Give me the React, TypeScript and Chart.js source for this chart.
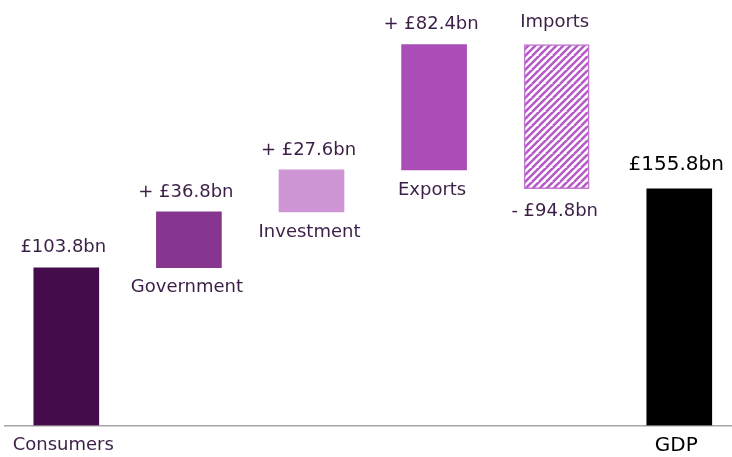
import React, { useEffect, useRef } from "react";
import { Chart, registerables } from "chart.js";

Chart.register(...registerables);

const categories = ["Consumers", "Government", "Investment", "Exports", "Imports", "GDP"];
// change contributed by each component (first and last are totals)
const changes = [103.8, 36.8, 27.6, 82.4, -94.8, 155.8];
const isTotal = [true, false, false, false, false, true];
const barColors = ["#440c4a", "#86368e", "#cf96d6", "#aa4db7", "hatch", "#000000"];
const textColors = ["#3c1f47", "#3c1f47", "#3c1f47", "#3c1f47", "#3c1f47", "#000000"];

function makeHatch(color: string): CanvasPattern | string {
  const s = 7;
  const T = s * 2;
  const c = document.createElement("canvas");
  c.width = T;
  c.height = T;
  const g = c.getContext("2d");
  if (!g) return color;
  g.fillStyle = "#ffffff";
  g.fillRect(0, 0, T, T);
  g.strokeStyle = color;
  g.lineWidth = 2.6;
  g.beginPath();
  for (let k = -2; k <= 5; k++) {
    const o = k * s;
    g.moveTo(o - T, T);
    g.lineTo(o + T, -T);
  }
  g.stroke();
  const p = g.createPattern(c, "repeat");
  return p || color;
}

function fmt(v: number, total: boolean) {
  const a = "£" + Math.abs(v).toFixed(1) + "bn";
  if (total) return a;
  return (v >= 0 ? "+ " : "- ") + a;
}

const labelPlugin = {
  id: "wfLabels",
  afterDatasetsDraw(chart: any) {
    const ctx = chart.ctx;
    const meta = chart.getDatasetMeta(0);
    const axisY = chart.chartArea.bottom;
    meta.data.forEach((bar: any, i: number) => {
      const { x, y, base } = bar.getProps(["x", "y", "base"], true);
      const top = Math.min(y, base);
      const bottom = Math.max(y, base);
      const big = i === categories.length - 1;
      ctx.save();
      ctx.font = (big ? "20px" : "18px") + ' "DejaVu Sans"';
      ctx.fillStyle = textColors[i];
      ctx.textAlign = "center";
      ctx.textBaseline = "middle";
      const val = fmt(changes[i], isTotal[i]);
      if (isTotal[i]) {
        ctx.fillText(val, x - 3, top - (big ? 24 : 20));
        ctx.fillText(categories[i], x - 3, axisY + 20);
      } else if (changes[i] >= 0) {
        ctx.fillText(val, x - 3, top - 20);
        ctx.fillText(categories[i], x - 2, bottom + 20);
      } else {
        ctx.fillText(categories[i], x - 2, top - 22);
        ctx.fillText(val, x - 2, bottom + 23);
      }
      ctx.restore();
    });
  },
};

export default function App() {
  const ref = useRef<HTMLCanvasElement | null>(null);
  useEffect(() => {
    if (!ref.current) return;
    let running = 0;
    const ranges: [number, number][] = [];
    changes.forEach((c, i) => {
      if (isTotal[i]) {
        ranges.push([0, c]);
        running = c;
      } else {
        const next = running + c;
        ranges.push([Math.min(running, next), Math.max(running, next)]);
        running = next;
      }
    });
    const hatch = makeHatch("#b65cc6");
    const bg = barColors.map((c) => (c === "hatch" ? hatch : c));
    const chart = new Chart(ref.current, {
      type: "bar",
      data: {
        datasets: [
          {
            data: ranges.map((r, i) => ({ x: i, y: r })) as any,
            backgroundColor: bg as any,
            borderColor: barColors.map((c) => (c === "hatch" ? "#c277d0" : c)),
            borderWidth: barColors.map((c) => (c === "hatch" ? 1.5 : 0)),
            borderSkipped: false,
            barThickness: 65,
          },
        ],
      },
      options: {
        animation: false,
        responsive: false,
        devicePixelRatio: 1,
        layout: { padding: { left: 5, right: 0, top: 0, bottom: 31.5 } },
        plugins: { legend: { display: false }, tooltip: { enabled: false } },
        scales: {
          x: {
            type: "linear",
            offset: false,
            min: -0.5,
            max: 5.43,
            ticks: { display: false },
            grid: { display: false, drawTicks: false, offset: false },
            border: { display: true, color: "#a6a6a6", width: 1.5 },
          },
          y: {
            display: false,
            min: 0,
            max: 280,
          },
        },
      },
      plugins: [labelPlugin],
    });
    return () => chart.destroy();
  }, []);
  return (
    <div style={{ position: "fixed", left: 0, top: 0, width: 732, height: 457, background: "#fff" }}>
      <canvas ref={ref} width={732} height={457} />
    </div>
  );
}
